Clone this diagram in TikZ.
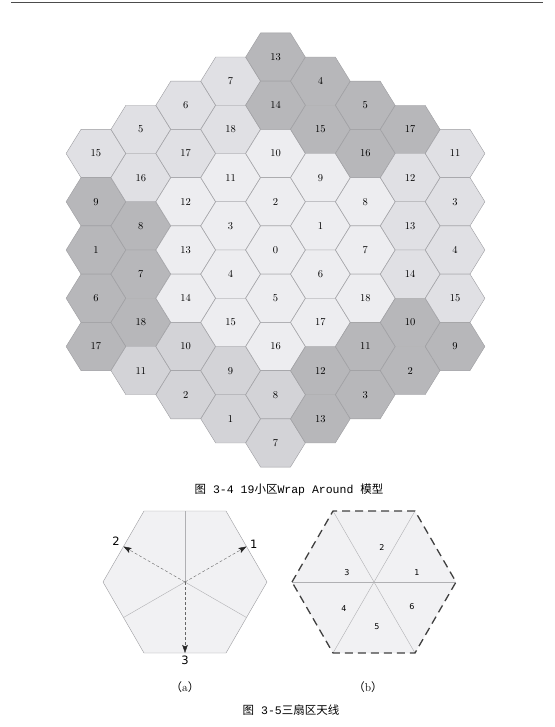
\documentclass[tikz,border=0pt]{standalone}
\usepackage{fontspec}
\usepackage{xcolor}
\usepackage{tikz}
\usetikzlibrary{arrows,arrows.meta,shapes}
\newfontfamily\cjk{Noto Sans CJK SC}
\newfontfamily\capmono{Liberation Mono}
\newfontfamily\labsans{DejaVu Sans}

\definecolor{hexw}{HTML}{EDEDF0}
\definecolor{hexl}{HTML}{E0E0E4}
\definecolor{hexm}{HTML}{D3D3D7}
\definecolor{hexd}{HTML}{B7B7BA}
\definecolor{hexedge}{HTML}{9C9CA0}
\definecolor{sectfill}{HTML}{F1F1F3}

\tikzset{
  hexline/.style={draw=hexedge, line width=0.4pt},
  pics/hexcell/.style={code={
    \filldraw[hexline, fill=#1] (-29.8,0) -- (-14.9,-24.1) -- (14.9,-24.1)
      -- (29.8,0) -- (14.9,24.1) -- (-14.9,24.1) -- cycle;}},
  cellnum/.style={font=\fontsize{10.5}{12}\selectfont, inner sep=0pt},
  sectline/.style={draw=hexedge!80, line width=0.4pt},
  beamarrow/.style={densely dashed, draw=black!60, line width=0.4pt,
    -{Stealth[length=8pt,width=5.5pt,inset=1.5pt,color=black!85,fill=black!85]}},
  beamlab/.style={font=\labsans\fontsize{11.5}{13}\selectfont, inner sep=1pt},
  sectnum/.style={font=\labsans\fontsize{8}{10}\selectfont, inner sep=0pt},
  capfont/.style={font=\capmono\fontsize{11.5}{13}\selectfont, inner sep=0pt},
  subcap/.style={font=\fontsize{11.5}{13}\selectfont, inner sep=0pt},
}

\begin{document}
\begin{tikzpicture}[x=1pt, y=-1pt]
    \useasboundingbox (0,0) rectangle (554,727);
    \draw[black!70, line width=0.8pt] (11,2.5) -- (543,2.5);

    % 19-cell wrap around grid, column by column
    \foreach \col/\cells in {
        -4/{15/l,9/d,1/d,6/d,17/d},
        -3/{5/l,16/l,8/d,7/d,18/d,11/m},
        -2/{6/l,17/l,12/w,13/w,14/w,10/m,2/m},
        -1/{7/l,18/l,11/w,3/w,4/w,15/w,9/m,1/m},
        0/{13/d,14/d,10/w,2/w,0/w,5/w,16/w,8/m,7/m},
        1/{4/d,15/d,9/w,1/w,6/w,17/w,12/d,13/d},
        2/{5/d,16/d,8/w,7/w,18/w,11/d,3/d},
        3/{17/d,12/l,13/l,14/l,10/d,2/d},
        4/{11/l,3/l,4/l,15/l,9/d}}{
        \pgfmathsetmacro\cx{275.5+44.9*\col}
        \pgfmathsetmacro\ctop{250-24.125*(8-abs(\col))}
        \foreach \lab/\sh [count=\k] in \cells {
            \pgfmathsetmacro\cy{\ctop+48.25*(\k-1)}
            \pic at (\cx,\cy) {hexcell=hex\sh};
            \node[cellnum] (c\col-\k) at (\cx,\cy) {\lab};
        }
    }
    \node[capfont] (cap34) at (289,490) {{\cjk 图} 3-4 19{\cjk 小区}Wrap Around {\cjk 模型}};

    % (a) three beams
    \begin{scope}[shift={(185,582)}]
        \filldraw[hexline, fill=sectfill] (-82,0) -- (-41,-71) -- (41,-71) -- (82,0)
            -- (41,71) -- (-41,71) -- cycle;
        \coordinate (ao) at (0,0);
        \coordinate (atop) at (0,-71);
        \coordinate (aleft) at (-61.5,35.5);
        \coordinate (aright) at (61.5,35.5);
        \coordinate (abeam1) at (61.5,-35.5);
        \coordinate (abeam2) at (-61.5,-35.5);
        \coordinate (abeam3) at (0,71);
        \draw[sectline] (ao) -- (atop);
        \draw[sectline] (ao) -- (aleft);
        \draw[sectline] (ao) -- (aright);
        \draw[beamarrow] (ao) -- (abeam1);
        \draw[beamarrow] (ao) -- (abeam2);
        \draw[beamarrow] (ao) -- (abeam3);
        \node[beamlab, anchor=west] (lab1) at (64,-38) {1};
        \node[beamlab, anchor=east] (lab2) at (-64,-41) {2};
        \node[beamlab, anchor=north] (lab3) at (0,73) {3};
    \end{scope}
    \node[subcap] (suba) at (185,687) {{\cjk （}a{\cjk ）}};

    % (b) six sectors
    \begin{scope}[shift={(374,582)}]
        \fill[sectfill] (-82,0) -- (-41,-71) -- (41,-71) -- (82,0)
            -- (41,71) -- (-41,71) -- cycle;
        \coordinate (bo) at (0,0);
        \draw[sectline] (-82,0) -- (82,0);
        \draw[sectline] (-41,71) -- (41,-71);
        \draw[sectline] (41,71) -- (-41,-71);
        \draw[black!75, line width=1.3pt, dash pattern=on 8pt off 5pt]
            (-82,0) -- (-41,-71) -- (41,-71) -- (82,0)
            -- (41,71) -- (-41,71) -- cycle;
        \node[sectnum] (s1) at (43,-9) {1};
        \node[sectnum] (s2) at (8,-34) {2};
        \node[sectnum] (s3) at (-27,-9) {3};
        \node[sectnum] (s4) at (-30,27) {4};
        \node[sectnum] (s5) at (3,45) {5};
        \node[sectnum] (s6) at (38,25) {6};
    \end{scope}
    \node[subcap] (subb) at (368,687) {{\cjk （}b{\cjk ）}};
    \node[capfont] (cap35) at (291,710) {{\cjk 图} 3-5{\cjk 三扇区天线}};
\end{tikzpicture}
\end{document}
